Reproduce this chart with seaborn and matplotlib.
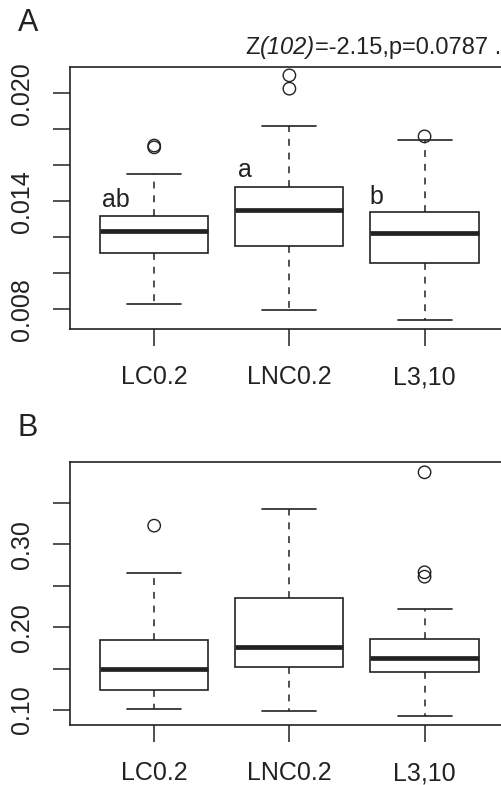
#!/usr/bin/env python3
"""Two-panel boxplot comparison (R-style) recreated with seaborn/matplotlib."""

import matplotlib
matplotlib.use("Agg")
import matplotlib.pyplot as plt
import seaborn as sns

# categories
groups = ["LC0.2", "LNC0.2", "L3,10"]

# panel A summary stats
a_whislo = [0.00828, 0.00798, 0.00743]
a_q1 = [0.01115, 0.01154, 0.01060]
a_med = [0.01235, 0.01352, 0.01226]
a_q3 = [0.01318, 0.01481, 0.01339]
a_whishi = [0.01550, 0.01818, 0.01739]
a_fliers = [[0.0171, 0.0170], [0.0210, 0.02026], [0.01761]]
a_letters = ["ab", "a", "b"]
a_ticks = [0.008, 0.010, 0.012, 0.014, 0.016, 0.018, 0.020]
a_ticklabels = ["0.008", "", "", "0.014", "", "", "0.020"]

# panel B summary stats
b_whislo = [0.1008, 0.0992, 0.0931]
b_q1 = [0.1240, 0.1523, 0.1459]
b_med = [0.1490, 0.1761, 0.1628]
b_q3 = [0.1845, 0.2349, 0.1854]
b_whishi = [0.2650, 0.3428, 0.2224]
b_fliers = [[0.3226], [], [0.387, 0.2663, 0.261]]
b_ticks = [0.10, 0.15, 0.20, 0.25, 0.30, 0.35]
b_ticklabels = ["0.10", "", "0.20", "", "0.30", ""]

# test statistic, pieces with their font style
stat_parts = [("Z", "normal"), ("(102)", "italic"), ("=-2.15,p=0.0787 .", "normal")]

INK = "#222222"

sns.set_style("ticks")
plt.rcParams["font.family"] = ["Liberation Sans", "DejaVu Sans"]


def draw_panel(ax, whislo, q1, med, q3, whishi, fliers, ticks, ticklabels, ylim):
    stats = []
    for i, name in enumerate(groups):
        stats.append(dict(label=name, whislo=whislo[i], q1=q1[i], med=med[i],
                          q3=q3[i], whishi=whishi[i], fliers=[]))
    pos = [1, 2, 3]
    ax.bxp(stats, positions=pos, widths=0.8, capwidths=0.4, showfliers=False,
           patch_artist=True,
           boxprops=dict(facecolor="white", edgecolor=INK, linewidth=1.2),
           medianprops=dict(color=INK, linewidth=3.4, solid_capstyle="butt"),
           whiskerprops=dict(color=INK, linewidth=1.1, linestyle=(0, (4.5, 4.5))),
           capprops=dict(color=INK, linewidth=1.2))

    # outliers as open circles
    fx, fy = [], []
    for p, vals in zip(pos, fliers):
        fx += [p] * len(vals)
        fy += vals
    if fy:
        sns.scatterplot(x=fx, y=fy, ax=ax, marker="o", s=80,
                        facecolors="none", edgecolors=INK, linewidth=1.0,
                        zorder=5, legend=False)

    ax.set_xlim(0.38, 3.62)
    ax.set_ylim(*ylim)
    ax.set_xticks(pos)
    ax.set_xticklabels(groups, fontsize=18)
    ax.set_yticks(ticks)
    ax.set_yticklabels(ticklabels, fontsize=18, rotation=90, va="center")
    ax.tick_params(axis="both", length=12, width=1.1, color=INK,
                   labelcolor=INK, pad=14, direction="out")
    ax.set_xlabel("")
    ax.set_ylabel("")
    for sp in ax.spines.values():
        sp.set_color(INK)
        sp.set_linewidth(1.2)


fig = plt.figure(figsize=(5.02, 7.85), dpi=100)
ax_a = fig.add_axes([0.1402, 0.5805, 0.8725, 0.3345])
ax_b = fig.add_axes([0.1402, 0.0764, 0.8725, 0.3347])

draw_panel(ax_a, a_whislo, a_q1, a_med, a_q3, a_whishi, a_fliers,
           a_ticks, a_ticklabels, (0.00689, 0.02148))
draw_panel(ax_b, b_whislo, b_q1, b_med, b_q3, b_whishi, b_fliers,
           b_ticks, b_ticklabels, (0.0819, 0.3991))

# significance letters above the boxes in panel A
for (x, y), lab in zip([(0.717, 0.01407), (1.671, 0.01574), (2.64, 0.01424)], a_letters):
    ax_a.text(x, y, lab, fontsize=18, ha="center", va="center", color=INK)

# chain the pieces of the statistic so "(102)" can be italic
prev = None
for txt, style in stat_parts:
    if prev is None:
        prev = ax_a.annotate(txt, xy=(245 / 502, 1 - 48 / 785),
                             xycoords="figure fraction", fontsize=17,
                             style=style, ha="left", va="center", color=INK,
                             annotation_clip=False)
    else:
        prev = ax_a.annotate(txt, xy=(1, 0), xycoords=prev, fontsize=17,
                             style=style, ha="left", va="bottom", color=INK,
                             annotation_clip=False)

fig.text(18 / 502, 1 - 23 / 785, "A", fontsize=22, ha="left", va="center", color=INK)
fig.text(18 / 502, 1 - 428 / 785, "B", fontsize=22, ha="left", va="center", color=INK)

fig.savefig("out.png", dpi=100)
